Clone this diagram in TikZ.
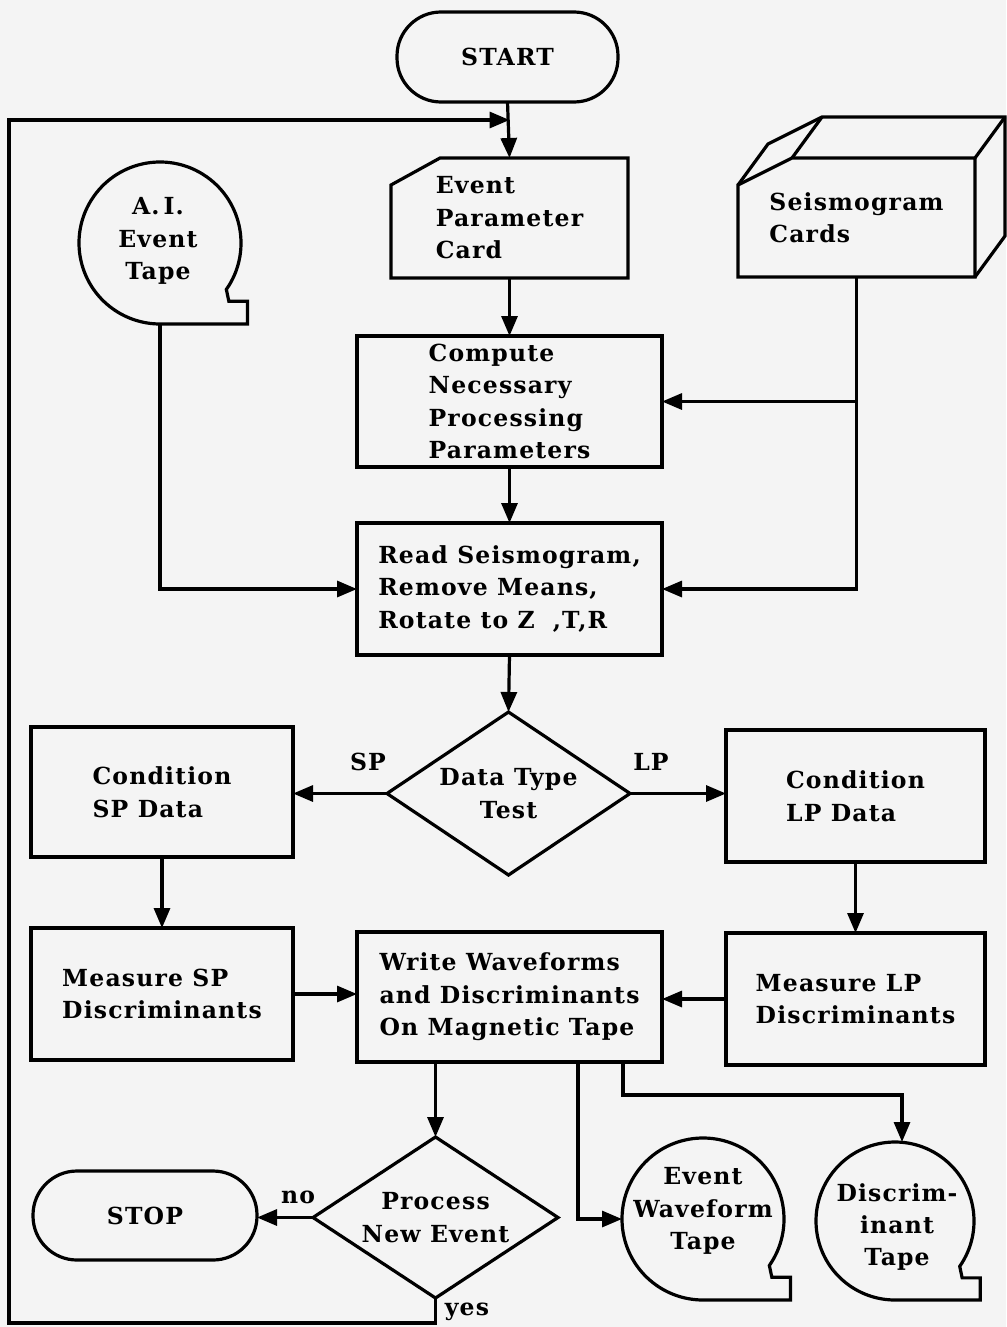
\documentclass[tikz,border=0pt]{standalone}
\usepackage{fontspec}
\newfontfamily\chartfont{DejaVu Serif}[LetterSpace=5]
\usetikzlibrary{arrows.meta,shapes.geometric}

\definecolor{paper}{RGB}{244,244,244}

% outline of a magnetic-tape symbol around circle node #1 of radius #2 (pt)
\newcommand\tapeoutline[2]{%
  \draw (#1.-35) arc[start angle=-35, end angle=270, radius=#2pt]
    -- ++({1.08*#2},0) -- ++(0,{-0.28*#2}) -- ++({-0.23*#2},0) -- cycle;
}

\begin{document}
\begin{tikzpicture}[x=1pt,y=-1pt,
  line width=3.2pt,
  txt/.style={font=\chartfont\bfseries\fontsize{23.5}{32.5}\selectfont, align=left, inner sep=0pt},
  ctxt/.style={txt, align=center},
  procbox/.style={draw, rectangle, outer sep=0pt, inner sep=0pt, txt},
  ghost/.style={rectangle, outer sep=0pt, inner sep=0pt, txt},
  terminal/.style={draw, rectangle, rounded corners=44pt, outer sep=0pt, inner sep=0pt, ctxt},
  decision/.style={draw, diamond, aspect=1.5, outer sep=0pt, inner sep=0pt, ctxt},
  tapenode/.style={circle, outer sep=0pt, inner sep=0pt},
  arr/.style={-{Triangle[length=20pt,width=16pt]}},
  lbl/.style={txt}
]
\fill[paper] (0,0) rectangle (1006,1327);
\useasboundingbox (0,0) rectangle (1006,1327);

% terminals
\node[terminal, minimum width=221pt, minimum height=90pt] (start) at (507.5,57) {START};
\node[terminal, minimum width=224pt, minimum height=89pt] (stop) at (145,1215.5) {STOP};

% event parameter card (chamfered corner)
\node[ghost, minimum width=237pt, minimum height=120pt] (card) at (509.5,218) {Event\\Parameter\\Card};
\draw (card.north east) -- (card.south east) -- (card.south west)
  -- ([yshift=-27pt]card.north west) -- ([xshift=49pt]card.north west) -- cycle;

% seismogram card deck
\node[ghost, minimum width=237pt, minimum height=119pt] (deck) at (856.5,217.5) {Seismogram\\Cards};
\draw (deck.south west) -- ([yshift=-27pt]deck.north west) -- ([xshift=54pt]deck.north west)
  -- (deck.north east) -- (deck.south east) -- cycle;
\draw ([yshift=-27pt]deck.north west) -- ++(30,-41) -- ++(54,-27) -- ++(183,0) -- ++(0,119) -- (deck.south east);
\draw ([xshift=54pt]deck.north west) -- ++(30,-41);
\draw (deck.north east) -- ++(30,-41);

% A.I. event tape
\node[tapenode, minimum size=162pt] (aitape) at (160,243) {};
\tapeoutline{aitape}{81}
\node[ctxt] (aitext) at (158,241) {A.\,I.\\Event\\Tape};

% processing boxes
\node[procbox, minimum width=305pt, minimum height=131pt] (compute) at (509.5,401.5)
  {Compute\\Necessary\\Processing\\Parameters};
\node[procbox, minimum width=305pt, minimum height=132pt] (read) at (509.5,589)
  {Read Seismogram,\\Remove Means,\\Rotate to Z\hspace{18pt},T,R};
\node[decision, minimum width=243pt, minimum height=163pt] (dtype) at (508.5,793.5)
  {Data Type\\Test};
\node[procbox, minimum width=262pt, minimum height=130pt] (condsp) at (162,792)
  {Condition\\SP Data};
\node[procbox, minimum width=259pt, minimum height=132pt] (condlp) at (855.5,796)
  {Condition\\LP Data};
\node[procbox, minimum width=262pt, minimum height=132pt] (meassp) at (162,994)
  {Measure SP\\Discriminants};
\node[procbox, minimum width=259pt, minimum height=132pt] (measlp) at (855.5,999)
  {Measure LP\\Discriminants};
\node[procbox, minimum width=305pt, minimum height=130pt] (write) at (509.5,997)
  {Write Waveforms\\and Discriminants\\On Magnetic Tape};
\node[decision, minimum width=245pt, minimum height=161pt] (newev) at (435.5,1217.5)
  {Process\\New Event};

% output tapes
\node[tapenode, minimum size=162pt] (wftape) at (703,1219) {};
\tapeoutline{wftape}{81}
\node[ctxt] (wftext) at (703,1211) {Event\\Waveform\\Tape};
\node[tapenode, minimum size=158pt] (dtape) at (895,1221) {};
\tapeoutline{dtape}{79}
\node[ctxt] (dtext) at (897,1227) {Discrim-\\inant\\Tape};

% branch labels
\node[lbl] (sp) at (368,762) {SP};
\node[lbl] (lp) at (651,762) {LP};
\node[lbl] (no) at (298,1197) {no};
\node[lbl] (yes) at (467,1312) {yes};

% connectors
\coordinate (loopbl) at (9,1323);
\coordinate (looptl) at (9,120);
\coordinate (loopjoin) at (509.5,120);
\draw[arr] (newev.south) |- (loopbl) -- (looptl) -- (loopjoin);
\draw[arr] (start.south) -- (card.north);
\draw[arr] (card.south) -- (compute.north);
\draw[arr] (compute.south) -- (read.north);
\draw[arr] (aitape.south) |- (read.west);
\draw[arr] (deck.south) |- (read.east);
\draw[arr] (deck.south |- compute.east) -- (compute.east);
\draw[arr] (read.south) -- (dtype.north);
\draw[arr] (dtype.west) -- (dtype.west -| condsp.east);
\draw[arr] (dtype.east) -- (dtype.east -| condlp.west);
\draw[arr] (condsp.south) -- (meassp.north);
\draw[arr] (condlp.south) -- (measlp.north);
\draw[arr] (meassp.east) -- (meassp.east -| write.west);
\draw[arr] (measlp.west) -- (measlp.west -| write.east);
\draw[arr] (write.south -| newev.north) -- (newev.north);
\draw[arr] (newev.west) -- (newev.west -| stop.east);
\draw[arr] ([xshift=68.5pt]write.south) |- (wftape.west);
\coordinate (dtjog) at (902,1095);
\draw[arr] ([xshift=113.5pt]write.south) |- (dtjog) -- (dtjog |- dtape.north);
\end{tikzpicture}
\end{document}
